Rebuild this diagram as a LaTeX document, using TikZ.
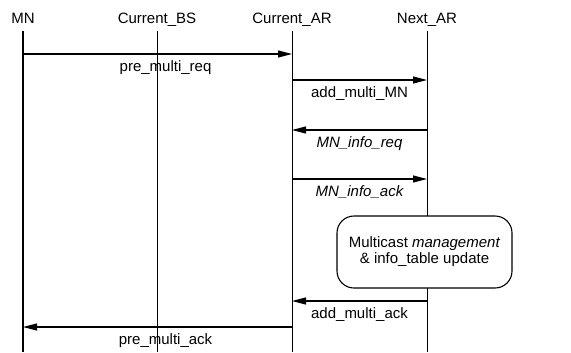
\documentclass[tikz,border=0pt]{standalone}
\usepackage{fontspec}
\setmainfont{Liberation Sans}
\usetikzlibrary{arrows.meta,positioning}

\begin{document}
\begin{tikzpicture}[x=1bp,y=-1bp,
    font=\fontsize{15bp}{16bp}\selectfont,
    head/.style={inner sep=0pt,anchor=base},
    life/.style={line width=1bp},
    msg/.style={line width=1.2bp,-{Triangle[length=14bp,width=7bp]}},
    lbl/.style={below=6bp,inner sep=0pt},
    proc/.style={draw,line width=1.1bp,rounded corners=17bp,fill=white,align=center,
      minimum width=175bp,minimum height=72bp,inner sep=0pt}]
  \useasboundingbox (0,0) rectangle (571,352);
  % participants
  \node[head] (mn)  at (23,23)  {MN};
  \node[head] (bs)  at (157,23) {Current\_BS};
  \node[head] (ar)  at (292,23) {Current\_AR};
  \node[head] (nar) at (427,23) {Next\_AR};
  \coordinate (top) at (0,31);
  \coordinate (bot) at (0,352);
  \draw[life,line width=1.6bp] (mn |- top) -- (mn |- bot);
  \foreach \p in {bs,ar,nar}
    \draw[life] (\p |- top) -- (\p |- bot);
  % message rows
  \foreach \r/\y in {r1/54,r2/80,r3/130,r4/179,r5/301,r6/327}
    \coordinate (\r) at (0,\y);
  \draw[msg] (mn |- r1) -- node[lbl,pos=.53] (l1) {pre\_multi\_req} (ar |- r1);
  \draw[msg] (ar |- r2) -- node[lbl] (l2) {add\_multi\_MN} (nar |- r2);
  \draw[msg] (nar |- r3) -- node[lbl] (l3) {\itshape MN\_info\_req} (ar |- r3);
  \draw[msg] (ar |- r4) -- node[lbl] (l4) {\itshape MN\_info\_ack} (nar |- r4);
  \node[proc] (upd) at (424.5,252) {Multicast \textit{management}\\\& info\_table update};
  \draw[msg] (nar |- r5) -- node[lbl] (l5) {add\_multi\_ack} (ar |- r5);
  \draw[msg] (ar |- r6) -- node[lbl,pos=.47] (l6) {pre\_multi\_ack} (mn |- r6);
\end{tikzpicture}
\end{document}
